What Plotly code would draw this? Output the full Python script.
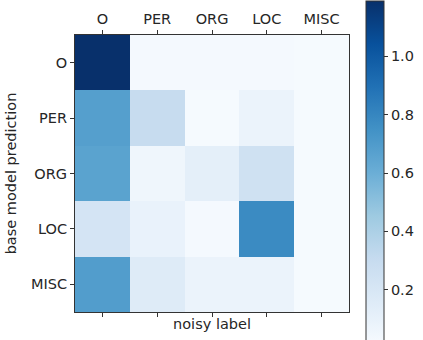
import plotly.graph_objects as go
import plotly.express as px

labels = ["O", "PER", "ORG", "LOC", "MISC"]
row_O = [1.19, 0.03, 0.03, 0.03, 0.02]
row_PER = [0.68, 0.30, 0.02, 0.08, 0.02]
row_ORG = [0.66, 0.06, 0.12, 0.25, 0.02]
row_LOC = [0.22, 0.09, 0.03, 0.78, 0.02]
row_MISC = [0.69, 0.16, 0.08, 0.08, 0.02]
matrix = [row_O, row_PER, row_ORG, row_LOC, row_MISC]
cbar_ticks = [0.2, 0.4, 0.6, 0.8, 1.0]
zmin, zmax = 0.01, 1.19

font = dict(family="DejaVu Sans", size=14.5, color="#262626")
idx = list(range(len(labels)))

fig = go.Figure()
fig.add_trace(go.Heatmap(
    z=matrix, x=idx, y=idx, zmin=zmin, zmax=zmax,
    colorscale=px.colors.sequential.Blues,
    xgap=0, ygap=0,
    colorbar=dict(
        x=1.062, xanchor="left", xpad=0, ypad=0,
        thickness=18, lenmode="pixels", len=344,
        y=1.1227, yanchor="top",
        outlinewidth=1, outlinecolor="#333333",
        tickvals=cbar_ticks, ticktext=[f"{t:.1f}" for t in cbar_ticks],
        ticks="outside", ticklen=4, tickcolor="#333333",
        tickfont=font,
    ),
))
# invisible trace to anchor bottom axis
fig.add_trace(go.Scatter(x=[0], y=[0], xaxis="x2", yaxis="y",
                         mode="markers", marker=dict(opacity=0),
                         hoverinfo="skip", showlegend=False))

axis_common = dict(showline=True, linecolor="#333333", linewidth=1,
                   ticks="outside", ticklen=4, tickcolor="#333333",
                   showgrid=False, zeroline=False, tickfont=font,
                   automargin=False)

fig.update_layout(
    width=423, height=340,
    margin=dict(l=75, r=74, t=35, b=28, autoexpand=False),
    paper_bgcolor="white", plot_bgcolor="white",
    font=font,
    xaxis=dict(side="top", range=[-0.5, 4.5], tickvals=idx, ticktext=labels,
               mirror=True, **axis_common),
    xaxis2=dict(side="bottom", overlaying="x", anchor="y", range=[-0.5, 4.5],
                tickvals=idx, showticklabels=False,
                title=dict(text="noisy label", font=font, standoff=2),
                **axis_common),
    yaxis=dict(range=[4.5, -0.5], tickvals=idx, ticktext=labels, mirror=True,
               title=dict(text="base model prediction", font=font, standoff=10),
               **axis_common),
)

fig.write_html("out.html")
